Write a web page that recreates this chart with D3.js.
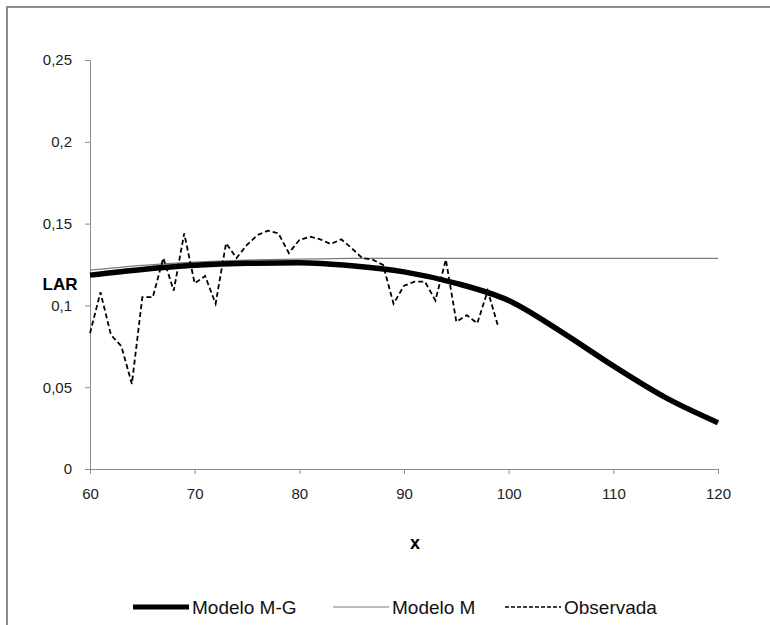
<!DOCTYPE html>
<html><head><meta charset="utf-8">
<script src="https://cdn.jsdelivr.net/npm/d3@7/dist/d3.min.js"></script>
<style>body{margin:0;background:#fff}svg{display:block}text{font-family:"Liberation Sans",Arial,sans-serif}</style>
</head><body><svg id="c" width="770" height="625"></svg>
<script>
const obsAges = [60,61,62,63,64,65,66,67,68,69,70,71,72,73,74,75,76,77,78,79,80,81,82,83,84,85,86,87,88,89,90,91,92,93,94,95,96,97,98,99];
const obsLAR  = [0.083,0.108,0.082,0.075,0.052,0.105,0.105,0.129,0.109,0.144,0.1135,0.118,0.101,0.138,0.129,0.137,0.143,0.1457,0.144,0.132,0.140,0.142,0.1404,0.1375,0.1404,0.135,0.129,0.128,0.1247,0.101,0.112,0.1145,0.1145,0.103,0.128,0.090,0.094,0.089,0.109,0.087];
const modelAges = [60,65,70,75,80,85,90,95,100,105,110,115,120];
const mgLAR = [0.1185,0.122,0.1245,0.1257,0.126,0.1242,0.1205,0.1135,0.103,0.084,0.063,0.0436,0.0283];
const mLAR  = [0.1215,0.1245,0.1265,0.1277,0.1283,0.1287,0.1288,0.1288,0.1288,0.1288,0.1288,0.1288,0.1288];
const xTicks = [60,70,80,90,100,110,120];
const yTicks = [0,0.05,0.1,0.15,0.2,0.25];
const legendLabels = ["Modelo M-G","Modelo M","Observada"];

const svg = d3.select("#c");
svg.append("rect").attr("x",7).attr("y",7).attr("width",800).attr("height",700)
  .attr("fill","none").attr("stroke","#8c8c8c").attr("stroke-width",2);

const x = d3.scaleLinear().domain([60,120]).range([90,718]);
const y = d3.scaleLinear().domain([0,0.25]).range([469,60]);
const fmt = d => String(d).replace(".",",");

const gx = svg.append("g").attr("transform","translate(0,469)")
  .call(d3.axisBottom(x).tickValues(xTicks).tickSize(5).tickPadding(14).tickFormat(d=>d));
const gy = svg.append("g").attr("transform","translate(90,0)")
  .call(d3.axisLeft(y).tickValues(yTicks).tickSize(5).tickPadding(13).tickFormat(fmt));
[gx,gy].forEach(g=>{
  g.selectAll("path,line").attr("stroke","#8c8c8c");
  g.selectAll("text").attr("fill","#222").style("font-size","15px").style("font-family","'Liberation Sans',Arial,sans-serif");
});

const line = d3.line().x(d=>x(d[0])).y(d=>y(d[1])).curve(d3.curveMonotoneX);
svg.append("path").datum(modelAges.map((a,i)=>[a,mLAR[i]])).attr("d",line)
  .attr("fill","none").attr("stroke","#7a7a7a").attr("stroke-width",1.2);
svg.append("path").datum(modelAges.map((a,i)=>[a,mgLAR[i]])).attr("d",line)
  .attr("fill","none").attr("stroke","#000").attr("stroke-width",5.5);
svg.append("path").datum(obsAges.map((a,i)=>[a,obsLAR[i]]))
  .attr("d",d3.line().x(d=>x(d[0])).y(d=>y(d[1])))
  .attr("fill","none").attr("stroke","#000").attr("stroke-width",1.8).attr("stroke-dasharray","5,3");

svg.append("text").attr("x",60).attr("y",290).attr("text-anchor","middle")
  .style("font-size","17px").style("font-weight","bold").text("LAR");
svg.append("text").attr("x",415).attr("y",549).attr("text-anchor","middle")
  .style("font-size","18px").style("font-weight","bold").text("x");

const lg = [{x:133,w:5,c:"#000",d:null},{x:333,w:1.2,c:"#7a7a7a",d:null},{x:505,w:1.5,c:"#000",d:"4,2"}];
lg.forEach((l,i)=>{
  svg.append("line").attr("x1",l.x).attr("x2",l.x+56).attr("y1",607).attr("y2",607)
    .attr("stroke",l.c).attr("stroke-width",l.w).attr("stroke-dasharray",l.d);
  svg.append("text").attr("x",l.x+59).attr("y",614).style("font-size","19px").attr("fill","#111").text(legendLabels[i]);
});
</script></body></html>
